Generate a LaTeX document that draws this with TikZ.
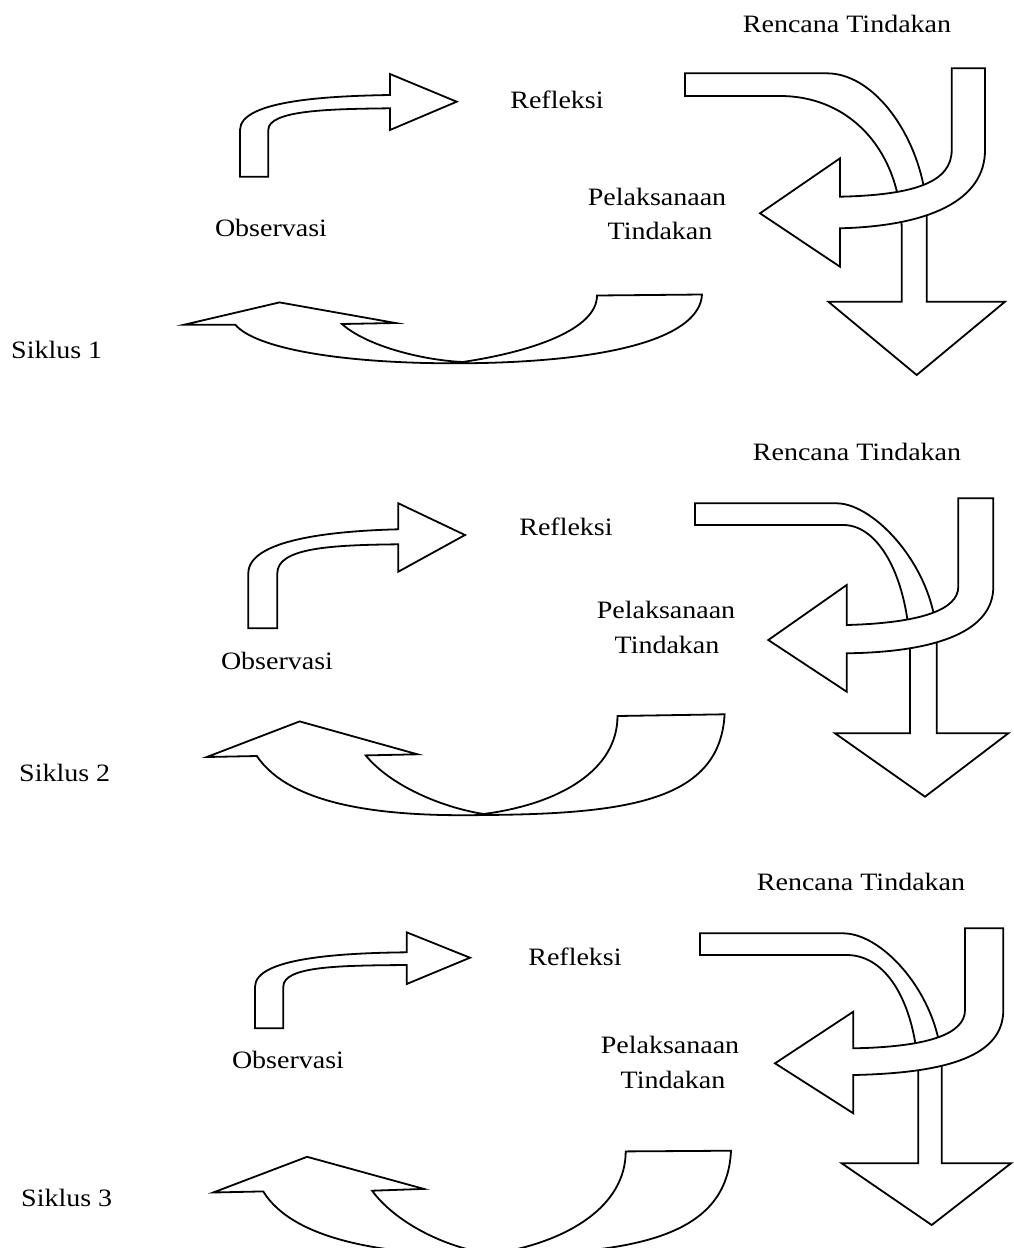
\documentclass[tikz,border=0pt]{standalone}
\usepackage{fontspec}
\setmainfont{Liberation Serif}[FakeStretch=1.12]
\begin{document}
\begin{tikzpicture}[x=1pt,y=-1pt,
  arr/.style={draw=black,fill=white,line width=1.8pt,line join=miter,miter limit=20},
  lbl/.style={inner sep=0pt,anchor=base,font=\fontsize{25}{30}\selectfont}]
\useasboundingbox (0,0) rectangle (1013,1248);
\fill[white] (0,0) rectangle (1013,1248);

% ================= Cycle 1 =================
\draw[arr] (240,176.7) -- (240,130) .. controls (240,100) and (330,96) .. (390,95) -- (390,74) -- (456.7,101.7) -- (390,130) -- (390,108.3) .. controls (330,109) and (268.3,110) .. (268.3,130) -- (268.3,176.7) -- cycle;
\draw[arr] (597,295.5) -- (702,294.5) .. controls (700,335) and (620,362) .. (462.7,363.3) .. controls (340,364) and (255,348) .. (235.4,324.8) -- (183.8,324.8) -- (279.5,302.4) -- (395.5,323) -- (342,324) .. controls (365,345) and (420,360) .. (462.7,362) .. controls (530,352) and (597,330) .. (597,295.5) -- cycle;
\draw[arr] (685,73.3) -- (826.7,73.3) .. controls (880,73.3) and (926.7,150) .. (926.7,216.7) -- (926.7,301.7) -- (1005,301.7) -- (916.7,375) -- (828.3,301.7) -- (901.7,301.7) -- (901.7,226.7) .. controls (899,150) and (850,96) .. (780,96) -- (685,96) -- cycle;
\draw[arr] (951.7,68.3) -- (985,68.3) -- (985,150) .. controls (985,200) and (930,226) .. (840,228.3) -- (840,266.7) -- (760,213.3) -- (840,158.3) -- (840,196.7) .. controls (915,195) and (951.7,182) .. (951.7,150) -- cycle;

\node[lbl] (rt1) at (847,32) {Rencana Tindakan};
\node[lbl] (rf1) at (557,108) {Refleksi};
\node[lbl] (ob1) at (271,236) {Observasi};
\node[lbl] (pl1) at (657,205) {Pelaksanaan};
\node[lbl] (td1) at (660,239) {Tindakan};
\node[lbl,anchor=base west] (sk1) at (11,358) {Siklus 1};

% ================= Cycle 2 =================
\draw[arr] (248.3,628.3) -- (248.3,573.3) .. controls (248.3,540) and (330,531) .. (398.3,529.3) -- (398.3,503.3) -- (465,535) -- (398.3,571.7) -- (398.3,544.3) .. controls (330,545) and (277.3,548) .. (277.3,573.3) -- (277.3,628.3) -- cycle;
\draw[arr] (617.5,716) -- (724.6,714.3) .. controls (720,800) and (630,814) .. (483.6,815) .. controls (380,817) and (290,805) .. (256.8,756) -- (206.8,757) -- (299.6,721.4) -- (417.5,754.3) -- (365.7,755.4) .. controls (390,785) and (440,807) .. (483.6,814) .. controls (560,804) and (617.5,770) .. (617.5,716) -- cycle;
\draw[arr] (695,503.3) -- (836.7,503.3) .. controls (875,503.3) and (936.7,570) .. (936.7,641.7) -- (936.7,733.3) -- (1008.3,733.3) -- (925,796.7) -- (835,733.3) -- (910,733.3) -- (910,650) .. controls (908,580) and (880,525) .. (843.3,525) -- (695,525) -- cycle;
\draw[arr] (958.3,498.3) -- (993.3,498.3) -- (993.3,586.7) .. controls (993.3,630) and (940,652) .. (846.7,653.3) -- (846.7,691.7) -- (768.3,640) -- (846.7,585) -- (846.7,625) .. controls (920,623) and (958.3,610) .. (958.3,586.7) -- cycle;

\node[lbl] (rt2) at (857,460) {Rencana Tindakan};
\node[lbl] (rf2) at (566,535) {Refleksi};
\node[lbl] (ob2) at (277,669) {Observasi};
\node[lbl] (pl2) at (666,618) {Pelaksanaan};
\node[lbl] (td2) at (667,653) {Tindakan};
\node[lbl,anchor=base west] (sk2) at (19,781) {Siklus 2};

% ================= Cycle 3 =================
\draw[arr] (255,1028.3) -- (255,986.7) .. controls (255,958) and (340,953) .. (406.7,952.3) -- (406.7,932.3) -- (470,957.7) -- (406.7,984) -- (406.7,965) .. controls (340,965.5) and (283.3,966) .. (283.3,986.7) -- (283.3,1028.3) -- cycle;
\draw[arr] (625.7,1151.4) -- (731,1150.7) .. controls (727,1235) and (640,1254) .. (491.8,1255) .. controls (385,1256) and (293,1240) .. (263.2,1191.4) -- (213.2,1192.5) -- (307.1,1156.8) -- (423.9,1188.9) -- (372.1,1190.7) .. controls (395,1222) and (445,1248) .. (491.8,1254) .. controls (570,1242) and (625.7,1205) .. (625.7,1151.4) -- cycle;
\draw[arr] (700,933.3) -- (843,933.3) .. controls (885,933.3) and (941.7,1000) .. (941.7,1068) -- (941.7,1163.3) -- (1011,1163.3) -- (931.7,1225) -- (841.7,1163.3) -- (918.3,1163.3) -- (918.3,1073) .. controls (916,1010) and (890,955) .. (846.7,955) -- (700,955) -- cycle;
\draw[arr] (965,928.3) -- (1003.3,928.3) -- (1003.3,1010) .. controls (1003.3,1055) and (950,1073) .. (853.3,1075) -- (853.3,1113.3) -- (775,1063.3) -- (853.3,1011.7) -- (853.3,1048.3) .. controls (925,1047) and (965,1035) .. (965,1010) -- cycle;

\node[lbl] (rt3) at (861,890) {Rencana Tindakan};
\node[lbl] (rf3) at (575,965) {Refleksi};
\node[lbl] (ob3) at (288,1068) {Observasi};
\node[lbl] (pl3) at (670,1053) {Pelaksanaan};
\node[lbl] (td3) at (673,1088) {Tindakan};
\node[lbl,anchor=base west] (sk3) at (21,1206) {Siklus 3};
\end{tikzpicture}
\end{document}
